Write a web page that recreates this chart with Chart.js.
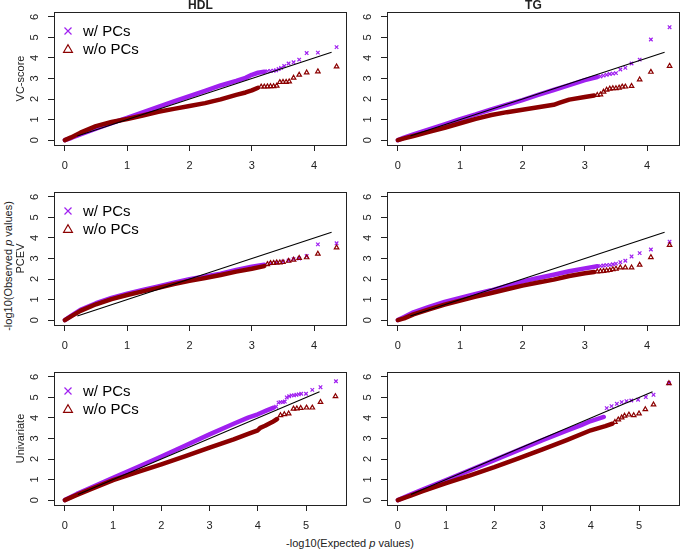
<!DOCTYPE html>
<html>
<head>
<meta charset="utf-8">
<script src="https://cdn.jsdelivr.net/npm/chart.js@4.4.1/dist/chart.umd.min.js"></script>
<style>
  html, body { margin: 0; padding: 0; background: #fff; overflow: hidden; }
  #fig { position: relative; width: 685px; height: 550px; font-family: 'Liberation Sans', Arial, sans-serif; color: #222; }
  .panel { position: absolute; }
  .outer { position: absolute; white-space: nowrap; font-size: 11px; transform: translate(-50%, -50%); }
  #ylab { left: 8px; top: 266px; transform: translate(-50%, -50%) rotate(-90deg); }
  #xlab { left: 350px; top: 543px; }
</style>
</head>
<body>
<div id="fig">
  <div class="outer" id="ylab">-log10(Observed <i>p</i> values)</div>
  <div class="outer" id="xlab">-log10(Expected <i>p</i> values)</div>
</div>
<script>
// QQ plots of -log10 p values, rows = method, columns = trait

const traits = ['HDL', 'TG'];
const methods = ['VC-score', 'PCEV', 'Univariate'];
const seriesNames = ['w/ PCs', 'w/o PCs'];

const yTicks = [0, 1, 2, 3, 4, 5, 6];
const xTicksShort = [0, 1, 2, 3, 4];
const xTicksLong = [0, 1, 2, 3, 4, 5];
const xRangeShort = [-0.174, 4.524];
const xRangeLong = [-0.225, 5.845];
const yRange = [-0.24, 6.24];

// y = x reference line (start, end)
const refLineShort = [0.2, 4.28];
const refLineLong = [0.27, 5.28];

// HDL / VC-score
const hdlVcWithPCs = [[0,0],[0.1,0.1],[0.25,0.28],[0.5,0.56],[0.75,0.82],[1,1.08],[1.25,1.35],[1.5,1.62],[1.75,1.88],[2,2.14],[2.25,2.4],[2.5,2.66],[2.75,2.88],[2.9,3.03],[3,3.18],[3.1,3.28],[3.2,3.33],
  [3.25,3.35],[3.3,3.37],[3.35,3.38],[3.39,3.4],[3.43,3.46],[3.47,3.52],[3.52,3.61],[3.59,3.73],[3.67,3.79],[3.76,3.92],[3.88,4.24],[4.06,4.26],[4.36,4.53]];
const hdlVcWithoutPCs = [[0,0],[0.1,0.13],[0.25,0.36],[0.5,0.68],[0.75,0.88],[1,1.03],[1.25,1.2],[1.5,1.38],[1.75,1.52],[2,1.66],[2.25,1.8],[2.5,1.98],[2.75,2.2],[2.9,2.32],[3,2.42],[3.1,2.55],
  [3.15,2.6],[3.2,2.6],[3.25,2.61],[3.3,2.62],[3.35,2.62],[3.4,2.64],[3.45,2.82],[3.5,2.83],[3.55,2.83],[3.6,2.85],[3.67,3.03],[3.76,3.18],[3.88,3.29],[4.06,3.34],[4.36,3.58]];

// TG / VC-score
const tgVcWithPCs = [[0,0],[0.1,0.12],[0.25,0.28],[0.5,0.52],[0.75,0.77],[1,1.02],[1.25,1.25],[1.5,1.5],[1.75,1.72],[2,1.95],[2.25,2.2],[2.5,2.44],[2.75,2.68],[3,2.92],[3.1,3],[3.2,3.07],
  [3.25,3.1],[3.3,3.14],[3.35,3.18],[3.4,3.22],[3.45,3.24],[3.5,3.26],[3.57,3.44],[3.65,3.52],[3.75,3.73],[3.88,3.92],[4.06,4.9],[4.36,5.5]];
const tgVcWithoutPCs = [[0,0],[0.1,0.08],[0.25,0.2],[0.5,0.4],[0.75,0.6],[1,0.82],[1.25,1.03],[1.5,1.22],[1.75,1.36],[2,1.48],[2.25,1.6],[2.5,1.72],[2.6,1.82],[2.75,1.97],[3,2.1],[3.15,2.17],
  [3.2,2.19],[3.25,2.22],[3.3,2.35],[3.35,2.45],[3.4,2.5],[3.45,2.52],[3.5,2.52],[3.55,2.55],[3.6,2.6],[3.65,2.6],[3.75,2.63],[3.88,2.95],[4.06,3.32],[4.36,3.61]];

// HDL / PCEV
const hdlPcevWithPCs = [[0,0],[0.1,0.2],[0.25,0.5],[0.5,0.82],[0.75,1.08],[1,1.29],[1.25,1.47],[1.5,1.64],[1.75,1.82],[2,1.99],[2.25,2.13],[2.5,2.26],[2.75,2.44],[3,2.6],[3.2,2.7],
  [3.3,2.76],[3.4,2.8],[3.5,2.85],[3.59,2.9],[3.67,2.97],[3.76,3],[3.88,3.12],[4.06,3.69],[4.36,3.74]];
const hdlPcevWithoutPCs = [[0,0],[0.1,0.18],[0.25,0.45],[0.5,0.77],[0.75,1.02],[1,1.22],[1.25,1.4],[1.5,1.57],[1.75,1.75],[2,1.91],[2.25,2.05],[2.5,2.2],[2.75,2.36],[3,2.5],[3.2,2.63],
  [3.25,2.72],[3.3,2.77],[3.35,2.78],[3.4,2.8],[3.45,2.8],[3.5,2.82],[3.59,2.88],[3.67,2.94],[3.76,3.02],[3.88,3.05],[4.06,3.23],[4.36,3.53]];

// TG / PCEV
const tgPcevWithPCs = [[0,0],[0.1,0.15],[0.25,0.38],[0.5,0.64],[0.75,0.88],[1,1.08],[1.25,1.27],[1.5,1.45],[1.75,1.67],[2,1.88],[2.25,2.05],[2.5,2.21],[2.75,2.38],[3,2.52],[3.2,2.62],
  [3.25,2.64],[3.3,2.66],[3.35,2.68],[3.4,2.69],[3.45,2.72],[3.5,2.75],[3.57,2.82],[3.65,2.89],[3.75,3.1],[3.88,3.26],[4.06,3.44],[4.36,3.82]];
const tgPcevWithoutPCs = [[0,0],[0.1,0.08],[0.25,0.28],[0.5,0.52],[0.75,0.75],[1,0.95],[1.25,1.14],[1.5,1.32],[1.75,1.5],[2,1.68],[2.25,1.83],[2.5,1.97],[2.75,2.15],[3,2.28],[3.15,2.34],
  [3.2,2.36],[3.25,2.38],[3.3,2.39],[3.35,2.41],[3.4,2.43],[3.45,2.47],[3.5,2.5],[3.57,2.56],[3.65,2.56],[3.75,2.56],[3.88,2.69],[4.06,3.06],[4.36,3.65]];

// HDL / Univariate
const hdlUniWithPCs = [[0,0],[0.25,0.3],[0.5,0.56],[1,1.08],[1.5,1.6],[2,2.12],[2.5,2.66],[3,3.2],[3.5,3.72],[3.8,4.02],[4,4.18],[4.2,4.38],[4.33,4.5],
  [4.38,4.55],[4.43,4.75],[4.47,4.77],[4.52,4.77],[4.56,4.8],[4.6,5],[4.65,5.06],[4.7,5.1],[4.75,5.1],[4.8,5.13],[4.85,5.15],[4.9,5.18],[5,5.18],[5.13,5.37],[5.3,5.5],[5.62,5.79]];
const hdlUniWithoutPCs = [[0,0],[0.25,0.25],[0.5,0.5],[1,0.97],[1.5,1.36],[2,1.74],[2.5,2.14],[3,2.56],[3.5,2.96],[3.8,3.22],[4,3.4],[4.05,3.52],[4.15,3.62],[4.3,3.8],[4.4,3.95],
  [4.47,4.13],[4.55,4.18],[4.64,4.21],[4.74,4.45],[4.81,4.46],[4.89,4.48],[5.01,4.5],[5.13,4.5],[5.3,4.77],[5.61,5.05]];

// TG / Univariate
const tgUniWithPCs = [[0,0],[0.25,0.25],[0.5,0.5],[1,0.98],[1.5,1.46],[2,1.95],[2.5,2.43],[3,2.92],[3.5,3.38],[3.8,3.65],[4,3.85],[4.27,4.05],
  [4.33,4.48],[4.43,4.58],[4.54,4.69],[4.64,4.77],[4.74,4.82],[4.84,4.85],[4.98,4.89],[5.14,5.02],[5.3,5.13],[5.62,5.69]];
const tgUniWithoutPCs = [[0,0],[0.25,0.2],[0.5,0.42],[1,0.82],[1.5,1.2],[2,1.6],[2.5,2.03],[3,2.47],[3.5,2.92],[4,3.4],[4.3,3.6],[4.45,3.72],
  [4.5,3.8],[4.57,3.92],[4.64,4.02],[4.7,4.1],[4.79,4.16],[4.89,4.13],[5,4.21],[5.13,4.42],[5.3,4.65],[5.62,5.69]];

// where the dense band turns into separate markers, per panel [w/ PCs, w/o PCs]
const panels = [
  { row: 0, col: 0, series: [hdlVcWithPCs, hdlVcWithoutPCs], denseTo: [3.2, 3.1] },
  { row: 0, col: 1, series: [tgVcWithPCs, tgVcWithoutPCs], denseTo: [3.2, 3.15] },
  { row: 1, col: 0, series: [hdlPcevWithPCs, hdlPcevWithoutPCs], denseTo: [3.2, 3.2] },
  { row: 1, col: 1, series: [tgPcevWithPCs, tgPcevWithoutPCs], denseTo: [3.2, 3.15] },
  { row: 2, col: 0, series: [hdlUniWithPCs, hdlUniWithoutPCs], denseTo: [4.33, 4.4] },
  { row: 2, col: 1, series: [tgUniWithPCs, tgUniWithoutPCs], denseTo: [4.27, 4.45] }
];

const FONT = "'Liberation Sans', Arial, sans-serif";
const PURPLE = '#a020f0';
const DARKRED = '#8b0000';
const INK = '#222';

// layout (px)
const boxLeft = [54, 387];
const boxTop = [12, 192, 372];
const boxW = 296, boxH = 133;
const AX_W = 45, AX_H = 32, PAD_T = 12, PAD_R = 2;

const panelDeco = {
  id: 'panelDeco',
  afterDraw(chart, args, o) {
    const { ctx, chartArea: a } = chart;
    const ys = chart.scales.y;
    const al = v => Math.round(v - 0.5) + 0.5;
    ctx.save();
    ctx.strokeStyle = INK;
    ctx.lineWidth = 1;
    ctx.strokeRect(al(a.left), al(a.top), al(a.right) - al(a.left), al(a.bottom) - al(a.top));

    // R style y tick labels, turned sideways
    ctx.fillStyle = INK;
    ctx.font = '11px ' + FONT;
    ctx.textAlign = 'center';
    ctx.textBaseline = 'middle';
    ys.ticks.forEach(tk => {
      ctx.save();
      ctx.translate(a.left - 19, ys.getPixelForValue(tk.value));
      ctx.rotate(-Math.PI / 2);
      ctx.fillText(String(tk.value), 0, 0);
      ctx.restore();
    });

    if (o.title) {
      ctx.font = 'bold 12px ' + FONT;
      ctx.fillText(o.title, (a.left + a.right) / 2, a.top - 6);
    }
    if (o.rowLabel) {
      ctx.font = '11px ' + FONT;
      ctx.save();
      ctx.translate(a.left - 33, (a.top + a.bottom) / 2);
      ctx.rotate(-Math.PI / 2);
      ctx.fillText(o.rowLabel, 0, 0);
      ctx.restore();
    }
    if (o.legend) {
      ctx.textAlign = 'left';
      ctx.font = '15px ' + FONT;
      ctx.lineWidth = 1.2;
      seriesNames.forEach((name, i) => {
        const x = a.left + 14, y = a.top + 19 + i * 18;
        ctx.strokeStyle = i === 0 ? PURPLE : DARKRED;
        ctx.beginPath();
        if (i === 0) {
          ctx.moveTo(x - 3.5, y - 3.5); ctx.lineTo(x + 3.5, y + 3.5);
          ctx.moveTo(x + 3.5, y - 3.5); ctx.lineTo(x - 3.5, y + 3.5);
        } else {
          ctx.moveTo(x, y - 4.2); ctx.lineTo(x + 4.4, y + 3.3); ctx.lineTo(x - 4.4, y + 3.3); ctx.closePath();
        }
        ctx.stroke();
        ctx.fillStyle = '#000';
        ctx.fillText(name, a.left + 29, y + 1);
      });
    }
    ctx.restore();
  }
};

function seriesDataset(points, idx, cut) {
  const color = idx === 0 ? PURPLE : DARKRED;
  return {
    label: seriesNames[idx],
    data: points.map(p => ({ x: p[0], y: p[1] })),
    showLine: true,
    borderColor: color,
    borderWidth: 4.5,
    borderCapStyle: 'round',
    borderJoinStyle: 'round',
    segment: {
      borderColor: c => c.p1.parsed.x <= cut ? color : 'rgba(0,0,0,0)'
    },
    pointStyle: idx === 0 ? 'crossRot' : 'triangle',
    pointRadius: c => (c.raw && c.raw.x > cut) ? (idx === 0 ? 2.5 : 2.6) : 0,
    pointBorderColor: color,
    pointBackgroundColor: 'rgba(0,0,0,0)',
    pointBorderWidth: 1.2,
    order: idx === 0 ? 2 : 1
  };
}

const fig = document.getElementById('fig');
panels.forEach(p => {
  const longX = p.row === 2;
  const xr = longX ? xRangeLong : xRangeShort;
  const xt = longX ? xTicksLong : xTicksShort;
  const ref = longX ? refLineLong : refLineShort;

  const div = document.createElement('div');
  div.className = 'panel';
  div.style.left = (boxLeft[p.col] - AX_W) + 'px';
  div.style.top = (boxTop[p.row] - PAD_T) + 'px';
  div.style.width = (AX_W + boxW + PAD_R) + 'px';
  div.style.height = (PAD_T + boxH + AX_H) + 'px';
  const canvas = document.createElement('canvas');
  div.appendChild(canvas);
  fig.appendChild(div);

  new Chart(canvas.getContext('2d'), {
    type: 'scatter',
    data: {
      datasets: [
        {
          label: 'y = x',
          data: [{ x: ref[0], y: ref[0] }, { x: ref[1], y: ref[1] }],
          showLine: true,
          borderColor: '#000',
          borderWidth: 1.1,
          pointRadius: 0,
          order: 0
        },
        seriesDataset(p.series[0], 0, p.denseTo[0]),
        seriesDataset(p.series[1], 1, p.denseTo[1])
      ]
    },
    options: {
      responsive: true,
      maintainAspectRatio: false,
      animation: false,
      events: [],
      layout: { padding: { top: PAD_T, right: PAD_R, left: 0, bottom: 0 } },
      plugins: {
        legend: { display: false },
        tooltip: { enabled: false },
        panelDeco: {
          title: p.row === 0 ? traits[p.col] : null,
          rowLabel: p.col === 0 ? methods[p.row] : null,
          legend: p.col === 0
        }
      },
      scales: {
        x: {
          type: 'linear',
          min: xr[0],
          max: xr[1],
          afterBuildTicks: s => { s.ticks = xt.map(v => ({ value: v })); },
          afterFit: s => { s.height = AX_H; },
          grid: { drawOnChartArea: false, drawTicks: true, tickLength: 6, color: INK },
          border: { display: false },
          ticks: { color: INK, font: { family: FONT, size: 11 }, padding: 8, maxRotation: 0, autoSkip: false }
        },
        y: {
          type: 'linear',
          min: yRange[0],
          max: yRange[1],
          afterBuildTicks: s => { s.ticks = yTicks.map(v => ({ value: v })); },
          afterFit: s => { s.width = AX_W; },
          grid: { drawOnChartArea: false, drawTicks: true, tickLength: 6, color: INK },
          border: { display: false },
          ticks: { color: 'rgba(0,0,0,0)', font: { family: FONT, size: 11 } }
        }
      }
    },
    plugins: [panelDeco]
  });
});
</script>
</body>
</html>
